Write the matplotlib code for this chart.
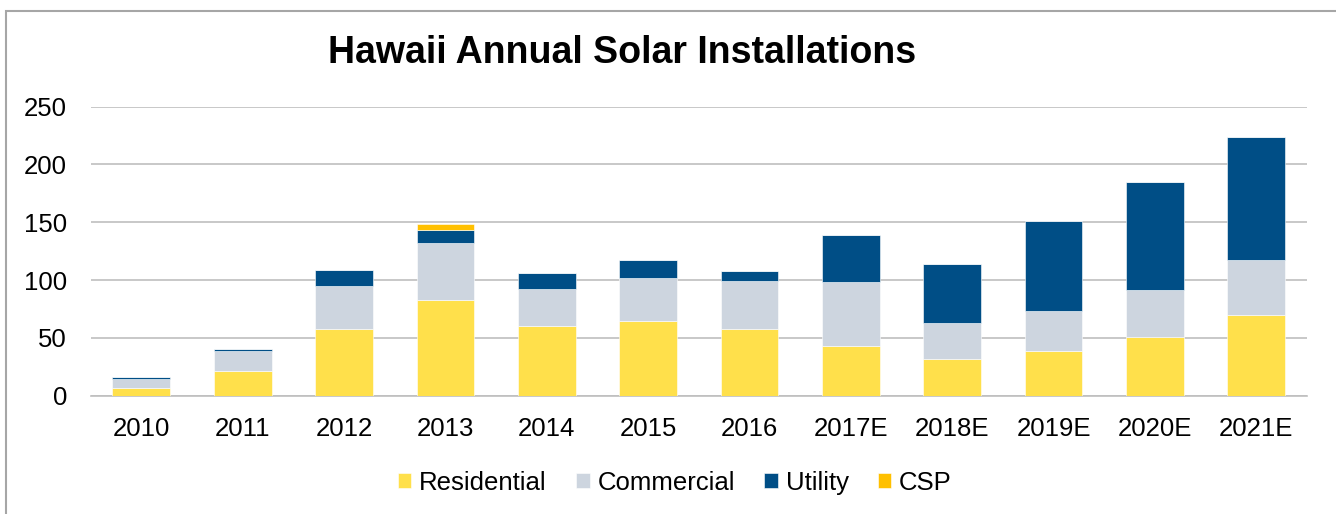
import matplotlib
matplotlib.use("Agg")
import matplotlib.pyplot as plt
from matplotlib.patches import Rectangle
import numpy as np

plt.rcParams['font.family'] = ['Liberation Sans', 'DejaVu Sans']

years = ['2010', '2011', '2012', '2013', '2014', '2015', '2016',
         '2017E', '2018E', '2019E', '2020E', '2021E']
residential = [7, 21, 57.5, 83, 60.5, 65, 57.5, 43, 32, 39, 51, 70]
commercial = [7.5, 18, 37.5, 49, 32, 37, 42, 55.5, 30.5, 34, 40.5, 47]
utility = [1.5, 1.5, 14, 11.5, 14, 15, 8, 40.5, 51.5, 78, 93, 107]
csp = [0, 0, 0, 5, 0, 0, 0, 0, 0, 0, 0, 0]

series = [('Residential', residential, '#FFE04B'),
          ('Commercial', commercial, '#CDD5DF'),
          ('Utility', utility, '#004E86'),
          ('CSP', csp, '#FFC000')]

W, H = 1336, 514
fig = plt.figure(figsize=(W / 100, H / 100), dpi=100)
ax = fig.add_axes([90.7 / W, 1 - 395.7 / H, (1307 - 90.7) / W, (395.7 - 106.7) / H])

x = np.arange(len(years))
bottom = np.zeros(len(years))
handles = []
for name, vals, col in series:
    v = np.array(vals, dtype=float)
    b = ax.bar(x, v, 0.57, bottom=bottom, color=col, edgecolor='white',
               linewidth=0.4, label=name, zorder=3)
    handles.append(b)
    bottom += v

ax.set_xlim(-0.5, len(years) - 0.5)
ax.set_ylim(0, 250)
ax.set_yticks(range(0, 251, 50))
ax.set_xticks(x)
ax.set_xticklabels(years)
ax.yaxis.grid(True, color='#BFBFBF', linewidth=1.2, zorder=0)
ax.set_axisbelow(True)
for s in ['top', 'right', 'left']:
    ax.spines[s].set_visible(False)
ax.spines['bottom'].set_color('#BFBFBF')
ax.spines['bottom'].set_linewidth(1.2)
ax.tick_params(axis='both', length=0, labelsize=18.5, colors='black')
ax.tick_params(axis='y', pad=17)
ax.tick_params(axis='x', pad=15.5)

fig.text(622 / W, 1 - 53 / H, 'Hawaii Annual Solar Installations',
         ha='center', va='center', fontsize=27, fontweight='bold')

leg = fig.legend(handles=handles, loc='center', bbox_to_anchor=(675 / W, 1 - 483 / H),
                 ncol=4, frameon=False, fontsize=18.5, handlelength=0.52,
                 handleheight=0.52, handletextpad=0.3, columnspacing=1.15)

fig.patches.append(Rectangle((5.5 / W, -0.1), 1.2, 1 - 10.5 / H + 0.1,
                             transform=fig.transFigure, fill=False,
                             edgecolor='#A6A6A6', linewidth=1.5))

fig.savefig('out.png', dpi=100)
